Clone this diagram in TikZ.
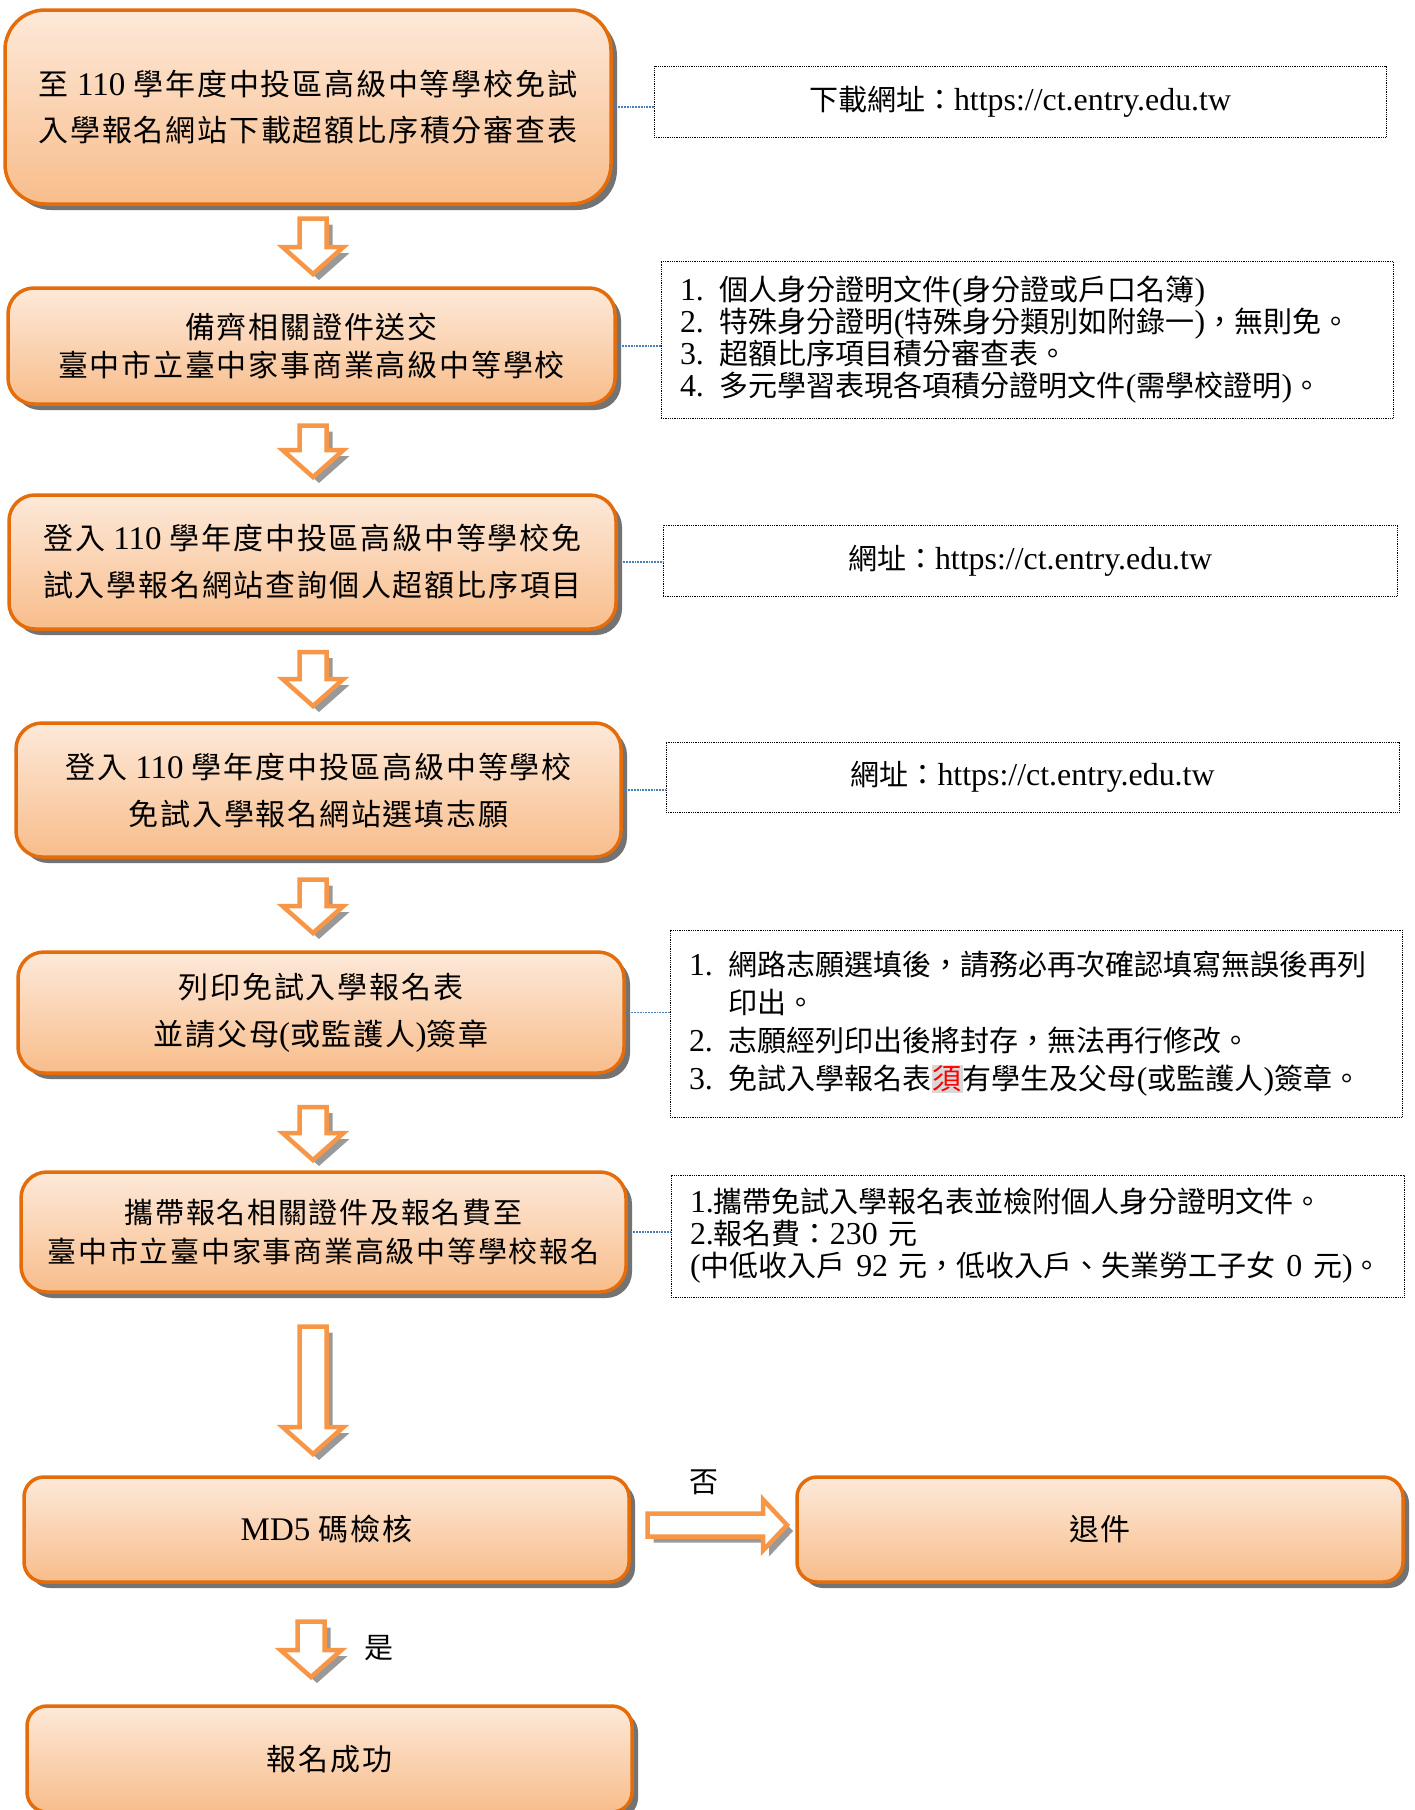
\documentclass[tikz,border=0pt]{standalone}
\usepackage{fontspec}
\setmainfont{Liberation Serif}[Scale=1.1]
\newfontfamily\cjkfont{Noto Sans CJK TC}
\newfontfamily\cjkwide{Noto Sans CJK TC}[LetterSpace=6]
\let\cjkface\cjkfont
\usetikzlibrary{calc,shadows,positioning}

% ideographs and full-width marks go to the CJK face
\XeTeXinterchartokenstate=1
\newXeTeXintercharclass\cjkclass
\newcount\cjkcode
\cjkcode="3000
\loop
  \XeTeXcharclass\cjkcode=\cjkclass
  \advance\cjkcode by 1
\ifnum\cjkcode<"A000 \repeat
\cjkcode="FF00
\loop
  \XeTeXcharclass\cjkcode=\cjkclass
  \advance\cjkcode by 1
\ifnum\cjkcode<"FFF0 \repeat
\XeTeXinterchartoks 0 \cjkclass = {\cjkface}
\XeTeXinterchartoks 4095 \cjkclass = {\cjkface}
\XeTeXinterchartoks \cjkclass 0 = {\normalfont}
\XeTeXinterchartoks \cjkclass 4095 = {\normalfont}

\definecolor{boxline}{HTML}{E46C0A}
\definecolor{boxtop}{HTML}{FDE9D9}
\definecolor{boxbot}{HTML}{F8BD8B}
\definecolor{arrowline}{HTML}{F79646}
\definecolor{linkblue}{HTML}{4A7EBB}
\setlength{\fboxsep}{1pt}

% hollow block arrows: tail, tip
\newcommand\arrowdown[2]{%
  \draw[fatarrow] ($(#1)+(-13.5,0)$) -- ($(#1)+(13.5,0)$) -- ($(#2)+(13.5,-27)$)
    -- ($(#2)+(30.5,-27)$) -- (#2) -- ($(#2)+(-30.5,-27)$) -- ($(#2)+(-13.5,-27)$) -- cycle;}
\newcommand\arrowright[2]{%
  \draw[fatarrow] ($(#1)+(0,-11.5)$) -- ($(#1)+(0,11.5)$) -- ($(#2)+(-24,11.5)$)
    -- ($(#2)+(-24,25.5)$) -- (#2) -- ($(#2)+(-24,-25.5)$) -- ($(#2)+(-24,-11.5)$) -- cycle;}

\begin{document}
\begin{tikzpicture}[x=1pt, y=-1pt,
  stage/.style={draw=boxline, line width=3.5pt, rounded corners=26pt,
    top color=boxtop, bottom color=boxbot, align=center,
    drop shadow={shadow xshift=6pt, shadow yshift=-6pt, fill=black!55, opacity=1},
    font=\let\cjkface\cjkwide\fontsize{30}{47}\selectfont},
  note/.style={draw, densely dotted, line width=0.8pt, inner xsep=19pt,
    font=\fontsize{29}{32}\selectfont},
  link/.style={draw=linkblue, densely dotted, line width=1.8pt},
  fatarrow/.style={draw=arrowline, fill=white, line width=4.5pt,
    drop shadow={shadow xshift=6pt, shadow yshift=-6pt, fill=black!40, opacity=1}}]

\useasboundingbox (0,0) rectangle (1415,1810);
\clip (0,0) rectangle (1415,1810);

% steps
\node[stage, minimum width=606, minimum height=194, rounded corners=40pt,
  font=\let\cjkface\cjkwide\fontsize{30}{46}\selectfont] (b1) at (308,107)
  {至 110 學年度中投區高級中等學校免試\\入學報名網站下載超額比序積分審查表};
\node[stage, minimum width=607, minimum height=116,
  font=\let\cjkface\cjkwide\fontsize{30}{38}\selectfont]
  (b2) at (311.5,346) {備齊相關證件送交\\臺中市立臺中家事商業高級中等學校};
\node[stage, minimum width=607, minimum height=134] (b3) at (312.5,562)
  {登入 110 學年度中投區高級中等學校免\\試入學報名網站查詢個人超額比序項目};
\node[stage, minimum width=605, minimum height=134] (b4) at (318.5,790)
  {登入 110 學年度中投區高級中等學校\\免試入學報名網站選填志願};
\node[stage, minimum width=606, minimum height=121] (b5) at (321,1012.5)
  {列印免試入學報名表\\並請父母(或監護人)簽章};
\node[stage, minimum width=605, minimum height=120,
  font=\let\cjkface\cjkwide\fontsize{29}{39}\selectfont]
  (b6) at (323.5,1232) {攜帶報名相關證件及報名費至\\臺中市立臺中家事商業高級中等學校報名};
\node[stage, minimum width=605, minimum height=105, rounded corners=20pt] (md5) at (326.5,1529.5) {MD5 碼檢核};
\node[stage, minimum width=606, minimum height=105, rounded corners=20pt] (back) at (1100,1529.5) {退件};
\node[stage, minimum width=605, minimum height=106, rounded corners=20pt] (done) at (329.5,1759) {報名成功};

% side notes
\node[note, minimum width=732, minimum height=71] (n1) at (1020,101.5)
  {下載網址：https://ct.entry.edu.tw};
\node[note, text width=694, minimum height=157, align=left] (n2) at (1027,339.5)
  {1. 個人身分證明文件(身分證或戶口名簿)\\
   2. 特殊身分證明(特殊身分類別如附錄一)，無則免。\\
   3. 超額比序項目積分審查表。\\
   4. 多元學習表現各項積分證明文件(需學校證明)。};
\node[note, minimum width=734, minimum height=71] (n3) at (1030,560.5)
  {網址：https://ct.entry.edu.tw};
\node[note, minimum width=733, minimum height=70] (n4) at (1032.5,777)
  {網址：https://ct.entry.edu.tw};
\node[note, text width=694, minimum height=187, align=left,
  font=\fontsize{29}{38}\selectfont] (n5) at (1036,1023.5)
  {1. 網路志願選填後，請務必再次確認填寫無誤後再列\\
   \hphantom{1. }印出。\\
   2. 志願經列印出後將封存，無法再行修改。\\
   3. 免試入學報名表\colorbox{black!15}{\color{red}須}有學生及父母(或監護人)簽章。};
\node[note, text width=695, minimum height=122, align=left] (n6) at (1037.5,1236)
  {1.攜帶免試入學報名表並檢附個人身分證明文件。\\
   2.報名費：230 元\\
   (中低收入戶 92 元，低收入戶、失業勞工子女 0 元)。};

\draw[link] (b1.east) -- (n1.west |- b1.east);
\draw[link] (b2.east) -- (n2.west |- b2.east);
\draw[link] (b3.east) -- (n3.west |- b3.east);
\draw[link] (b4.east) -- (n4.west |- b4.east);
\draw[link] (b5.east) -- (n5.west |- b5.east);
\draw[link] (b6.east) -- (n6.west |- b6.east);

% flow arrows
\arrowdown{313,218.5}{313,274}
\arrowdown{313,425.5}{313,477}
\arrowdown{313,652}{313,706}
\arrowdown{313,879.5}{313,933}
\arrowdown{313,1107}{313,1160}
\arrowdown{313,1326.5}{313,1454}
\arrowdown{311,1621.5}{311,1677}
\arrowright{647.5,1525}{787,1525}

\node[font=\fontsize{29}{32}\selectfont] (no) at (704,1482) {否};
\node[font=\fontsize{29}{32}\selectfont] (yes) at (379,1648) {是};

\end{tikzpicture}
\end{document}
